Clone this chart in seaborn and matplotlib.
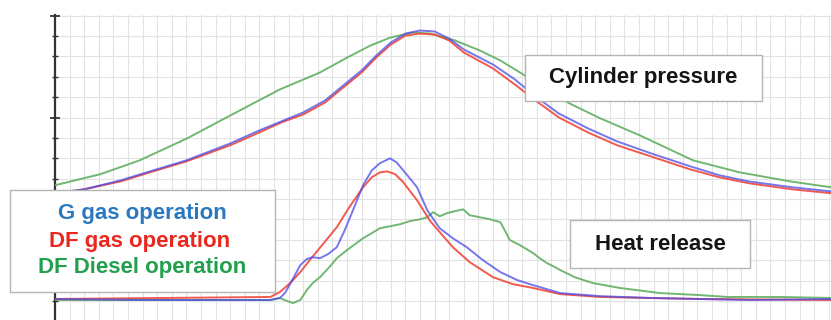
import numpy as np
import pandas as pd
import seaborn as sns
import matplotlib
matplotlib.use("Agg")
import matplotlib.pyplot as plt
from matplotlib.ticker import MultipleLocator, NullFormatter
from matplotlib.patches import Rectangle

# ---------------- data (crank angle, arbitrary units) ----------------
p_angle = [-50, -46, -41, -37, -32, -26, -22, -19, -16, -13, -11, -8, -6, -4, -2, 0,
           2, 4, 6, 10, 13, 16, 19, 23, 27, 32, 37, 41, 45, 51, 56.3]
p_g_gas = [62.9, 64.8, 69.2, 73.6, 79.0, 87.3, 93.7, 98.1, 102.5, 108.4, 114.3, 123.1,
           130.4, 136.8, 141.2, 142.7, 142.2, 138.7, 133.4, 126.0, 118.7, 109.9, 102.0,
           94.7, 88.3, 82.0, 76.1, 71.7, 68.7, 65.8, 63.8]
p_df_gas = [62.9, 64.8, 68.7, 73.1, 78.5, 86.4, 92.7, 97.6, 101.5, 107.4, 113.3, 122.1,
            129.4, 135.8, 140.2, 141.2, 140.7, 137.8, 131.9, 124.1, 116.2, 107.9, 100.1,
            92.7, 86.4, 80.5, 74.6, 70.7, 67.8, 64.8, 62.9]
pd_angle = [-50, -43.8, -38.4, -31.9, -26, -19.2, -13.7, -10, -6.8, -4.1, -1, 1.4, 4.8,
            8.2, 11, 13.7, 17.1, 20.5, 24.7, 30.1, 37.4, 43.8, 50.7, 56.3]
p_df_diesel = [66.8, 72.2, 79.0, 89.8, 101.0, 113.8, 122.1, 129.4, 135.3, 139.2, 141.7,
               141.2, 137.8, 132.9, 128.0, 122.1, 114.3, 106.9, 99.6, 91.3, 79.0, 73.1,
               68.7, 65.8]

hg_angle = [-50, -37, -23.3, -20.5, -19.2, -18.5, -17.5, -16.4, -15.5, -14.7, -13.7,
            -12.6, -11.4, -10.3, -8.9, -7.8, -6.6, -5.5, -4.1, -3.2, -2.3, -1.4, -0.4,
            1.0, 2.7, 4.5, 6.4, 8.6, 11.0, 13.3, 15.5, 19.2, 24.7, 31.5, 38.4, 45.2, 56.3]
h_g_gas = [11.0, 10.5, 10.5, 10.5, 11.5, 13.9, 20.3, 27.6, 30.6, 31.5, 31.0, 33.0, 36.4,
           44.8, 57.0, 66.8, 74.1, 77.6, 80.0, 78.0, 74.1, 70.2, 65.8, 54.5, 45.7, 40.8,
           36.4, 30.1, 24.2, 20.3, 17.8, 13.9, 12.4, 11.5, 11.0, 10.5, 11.0]

hr_angle = [-50, -20.5, -19.2, -17.8, -16.4, -15.1, -13.3, -11.4, -9.6, -7.8, -6.6,
            -5.5, -4.5, -3.4, -2.3, -0.4, 1.4, 2.7, 4.5, 6.8, 10.0, 12.7, 15.5, 19.2,
            24.7, 31.5, 38.4, 56.3]
h_df_gas = [11.0, 12.0, 14.4, 18.8, 24.2, 30.1, 37.9, 46.2, 56.5, 65.8, 70.7, 73.1, 73.6,
            72.2, 68.3, 59.4, 49.2, 43.8, 36.4, 29.1, 21.7, 18.3, 16.4, 13.4, 12.0, 11.5,
            11.0, 10.5]

hd_angle = [-50, -20.5, -19.2, -18.2, -17.4, -16.4, -15.5, -14.7, -13.7, -12.3, -11.4,
            -10.0, -8.9, -7.8, -6.6, -5.5, -4.1, -2.7, -1.4, 0, 1.0, 1.8, 2.7, 3.7, 4.8,
            5.9, 6.8, 8.2, 9.6, 11.0, 11.6, 12.3, 13.7, 15.5, 16.4, 17.4, 18.5, 19.2,
            21.2, 23.7, 27.4, 32.9, 38.4, 42.1, 49.3, 56.3]
h_df_diesel = [10.5, 10.5, 11.5, 10.0, 9.0, 10.5, 15.4, 18.8, 21.7, 27.1, 31.0, 35.0,
               37.9, 40.8, 43.3, 45.7, 46.7, 47.7, 49.2, 50.1, 51.1, 53.6, 51.6, 53.1,
               54.1, 55.0, 52.1, 51.1, 50.1, 48.7, 44.8, 39.9, 37.4, 33.5, 31.0, 28.6,
               26.6, 25.2, 21.7, 18.8, 16.4, 13.9, 12.9, 12.0, 12.0, 11.5]

legend_labels = ["G gas operation", "DF gas operation", "DF Diesel operation"]
label_pressure = "Cylinder pressure"
label_heat = "Heat release"

# ---------------- styling ----------------
sns.set_theme(style="white")
plt.rcParams["font.family"] = ["Liberation Sans", "DejaVu Sans"]

W, H = 831, 320
fig = plt.figure(figsize=(W / 100, H / 100), dpi=100)
ax = fig.add_axes([55 / W, 0, 1 - 55 / W, (H - 15) / H])

c_blue_line = "#4a4ae8"
c_red_line = "#f0483a"
c_green_line = "#62b062"

def draw(x, y, color, z, alpha):
    df = pd.DataFrame({"x": x, "y": y})
    sns.lineplot(data=df, x="x", y="y", ax=ax, color=color, lw=1.4, alpha=alpha,
                 estimator=None, sort=False, zorder=z)

draw(pd_angle, p_df_diesel, c_green_line, 3, 0.9)
draw(hd_angle, h_df_diesel, c_green_line, 3, 0.9)
draw(p_angle, p_df_gas, c_red_line, 4, 0.9)
draw(hr_angle, h_df_gas, c_red_line, 4, 0.9)
draw(p_angle, p_g_gas, c_blue_line, 5, 0.75)
draw(hg_angle, h_g_gas, c_blue_line, 5, 0.75)

ax.set_xlim(-50, 56.3)
ax.set_ylim(0.7, 150.3)
ax.set_xlabel("")
ax.set_ylabel("")

ax.xaxis.set_major_locator(MultipleLocator(2))
ax.yaxis.set_major_locator(MultipleLocator(50))
ax.yaxis.set_minor_locator(MultipleLocator(10))
ax.xaxis.set_major_formatter(NullFormatter())
ax.yaxis.set_major_formatter(NullFormatter())
ax.grid(True, which="both", axis="both", color="#e2e2e2", lw=0.8)
ax.set_axisbelow(True)
for s in ["top", "right", "bottom"]:
    ax.spines[s].set_visible(False)
ax.spines["left"].set_color("#333333")
ax.spines["left"].set_linewidth(1.6)
ax.tick_params(axis="x", which="both", length=0)
ax.tick_params(axis="y", which="major", direction="inout", length=7, width=1.3,
               color="#333333", left=True)
ax.tick_params(axis="y", which="minor", direction="inout", length=4, width=1.0,
               color="#333333", left=True)
ax.set_facecolor("white")


def box(px0, py0, px1, py1):
    r = Rectangle((px0 / W, 1 - py1 / H), (px1 - px0) / W, (py1 - py0) / H,
                  transform=fig.transFigure, facecolor="white", edgecolor="#b4b4b4",
                  lw=1.0, zorder=10)
    fig.add_artist(r)


def label(px, py, s, color):
    fig.text(px / W, 1 - py / H, s, color=color, fontsize=16, fontweight="bold",
             ha="center", va="center", zorder=11)


box(10, 190, 275, 292)
label(142, 214, legend_labels[0], "#2a78c0")
label(140, 242, legend_labels[1], "#e8281e")
label(142, 268, legend_labels[2], "#22a04e")

box(525, 55, 762, 101)
label(643, 78, label_pressure, "#151515")

box(570, 220, 750, 268)
label(660, 244, label_heat, "#151515")

fig.savefig("out.png", dpi=100)
